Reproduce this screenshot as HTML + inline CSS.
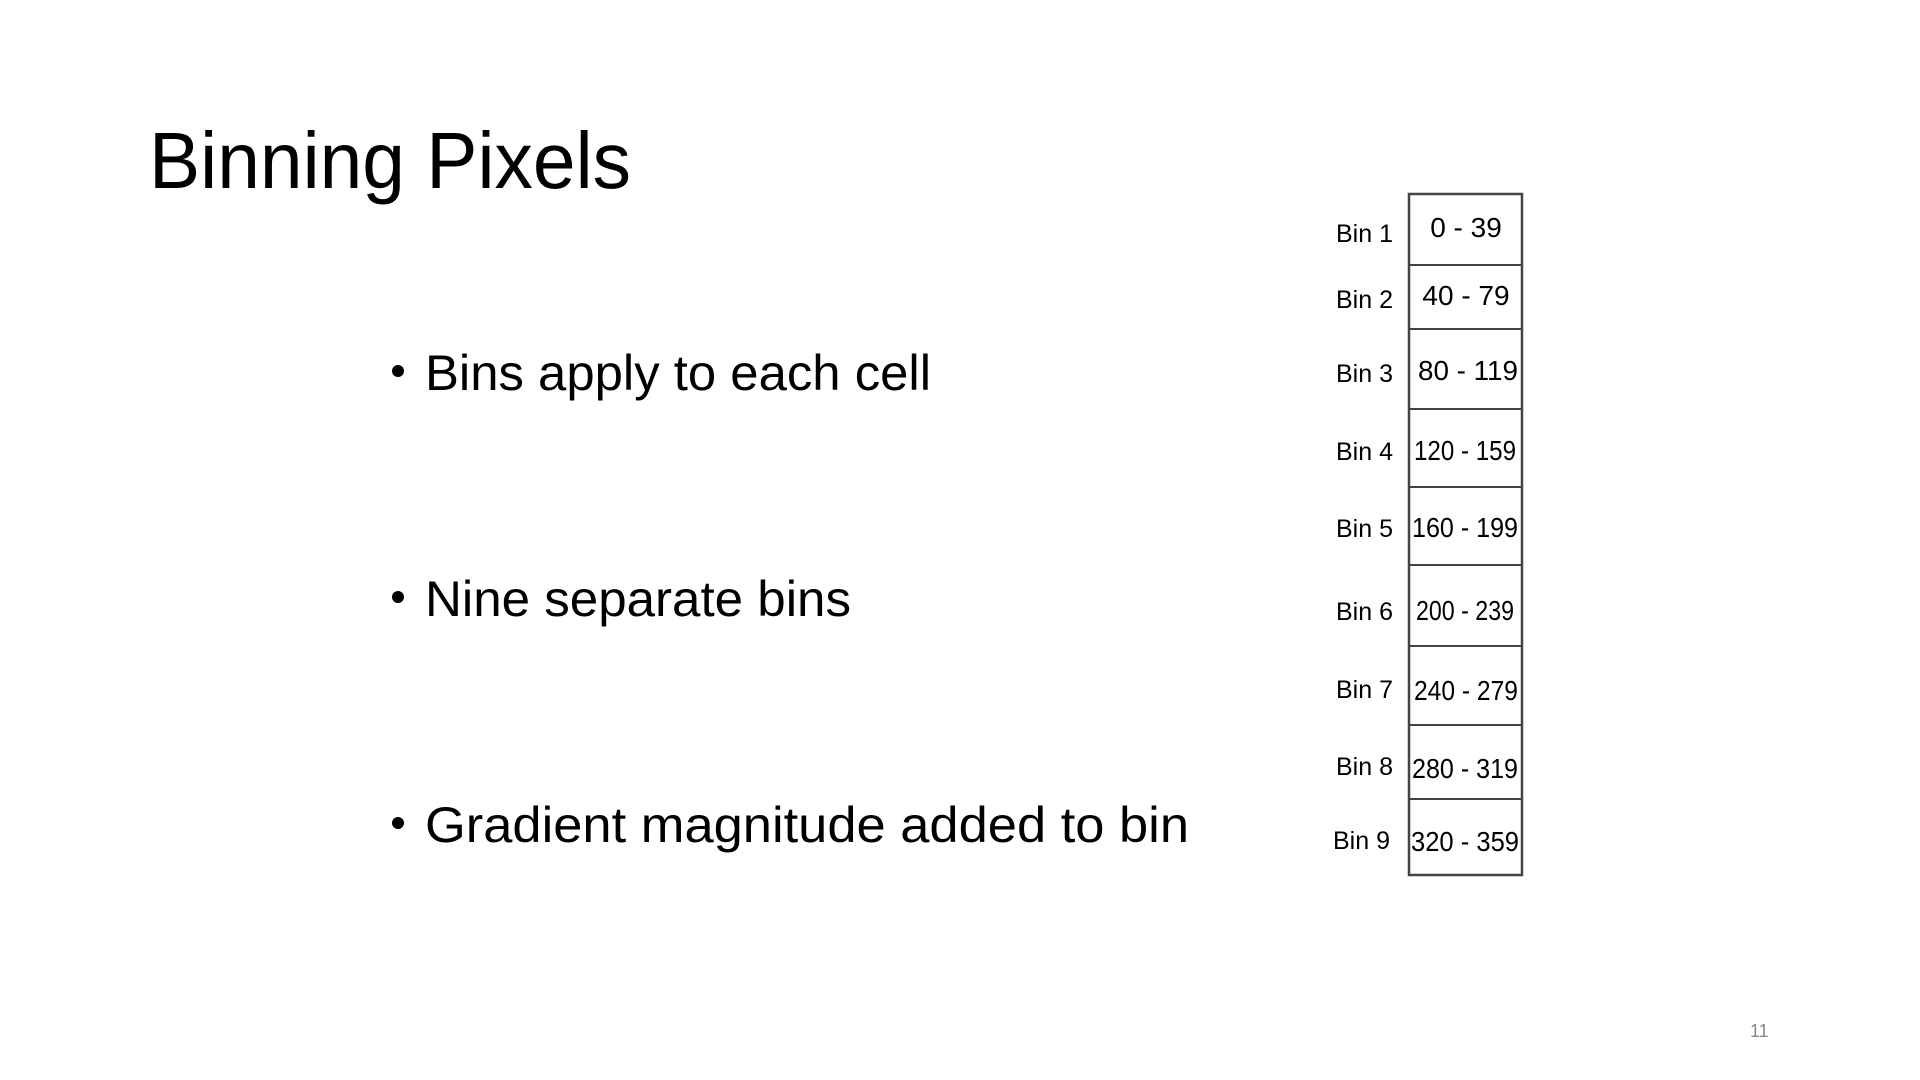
<!DOCTYPE html>
<html><head><meta charset="utf-8"><style>
html,body{margin:0;padding:0;background:#fff;}
svg{display:block;}
</style></head><body>
<svg width="1920" height="1080" viewBox="0 0 1920 1080" xmlns="http://www.w3.org/2000/svg">
<rect width="1920" height="1080" fill="#fff"/>
<text x="149" y="188" font-family="Liberation Sans, sans-serif" font-size="80" fill="#000" textLength="482" lengthAdjust="spacingAndGlyphs">Binning Pixels</text>
<g font-family="Liberation Sans, sans-serif" font-size="50" fill="#000">
<circle cx="398" cy="371" r="6"/>
<text x="425" y="390" textLength="506" lengthAdjust="spacingAndGlyphs">Bins apply to each cell</text>
<circle cx="398" cy="597" r="6"/>
<text x="425" y="616" textLength="426" lengthAdjust="spacingAndGlyphs">Nine separate bins</text>
<circle cx="398" cy="823" r="6"/>
<text x="425" y="842" textLength="764" lengthAdjust="spacingAndGlyphs">Gradient magnitude added to bin</text>
</g>
<g stroke="#444" stroke-width="2" fill="none">
<rect x="1409" y="194" width="113" height="681" stroke-width="2.5"/>
<line x1="1409" y1="265" x2="1522" y2="265"/>
<line x1="1409" y1="329" x2="1522" y2="329"/>
<line x1="1409" y1="409" x2="1522" y2="409"/>
<line x1="1409" y1="487" x2="1522" y2="487"/>
<line x1="1409" y1="565" x2="1522" y2="565"/>
<line x1="1409" y1="646" x2="1522" y2="646"/>
<line x1="1409" y1="725" x2="1522" y2="725"/>
<line x1="1409" y1="799" x2="1522" y2="799"/>
</g>
<g font-family="Liberation Sans, sans-serif" font-size="25" fill="#000">
<text x="1336" y="242">Bin 1</text>
<text x="1336" y="308">Bin 2</text>
<text x="1336" y="382">Bin 3</text>
<text x="1336" y="460">Bin 4</text>
<text x="1336" y="537">Bin 5</text>
<text x="1336" y="620">Bin 6</text>
<text x="1336" y="698">Bin 7</text>
<text x="1336" y="775">Bin 8</text>
<text x="1333" y="849">Bin 9</text>
</g>
<g font-family="Liberation Sans, sans-serif" font-size="28" fill="#000" text-anchor="middle">
<text x="1466" y="237">0 - 39</text>
<text x="1466" y="305">40 - 79</text>
<text x="1468" y="380" textLength="100" lengthAdjust="spacingAndGlyphs">80 - 119</text>
<text x="1465" y="460" textLength="102" lengthAdjust="spacingAndGlyphs">120 - 159</text>
<text x="1465" y="537" textLength="106" lengthAdjust="spacingAndGlyphs">160 - 199</text>
<text x="1465" y="620" textLength="98" lengthAdjust="spacingAndGlyphs">200 - 239</text>
<text x="1466" y="700" textLength="104" lengthAdjust="spacingAndGlyphs">240 - 279</text>
<text x="1465" y="778" textLength="106" lengthAdjust="spacingAndGlyphs">280 - 319</text>
<text x="1465" y="851" textLength="108" lengthAdjust="spacingAndGlyphs">320 - 359</text>
</g>
<text x="1750" y="1037" font-family="Liberation Sans, sans-serif" font-size="18" fill="#888">11</text>
</svg>
</body></html>
